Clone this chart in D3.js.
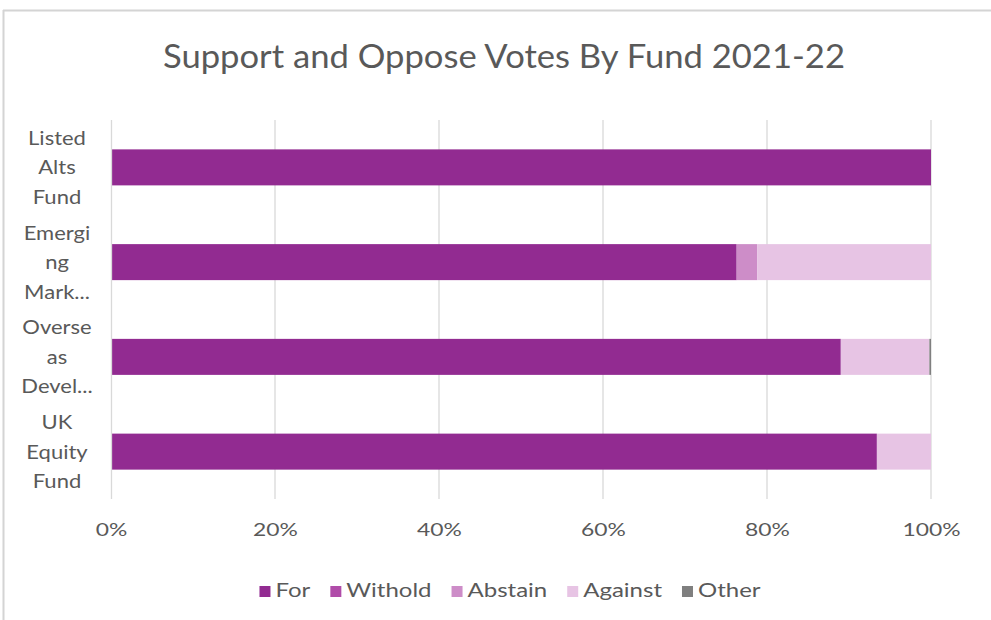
<!DOCTYPE html>
<html>
<head>
<meta charset="utf-8">
<script src="https://cdn.jsdelivr.net/npm/d3@7"></script>
<style>
  html, body { margin: 0; padding: 0; background: #fff; }
  svg { display: block; font-family: Lato, "Open Sans", sans-serif; }
</style>
</head>
<body>
<svg id="chart" width="991" height="620"></svg>
<script>
// Funds (top to bottom) with their wrapped axis labels
const funds = ["Listed Alts Fund", "Emerging Markets", "Overseas Developed", "UK Equity Fund"];
const fundLabelLines = [
  ["Listed", "Alts", "Fund"],
  ["Emergi", "ng", "Mark..."],
  ["Overse", "as", "Devel..."],
  ["UK", "Equity", "Fund"]
];

// Share of votes per outcome (%)
const voteTypes = ["For", "Withold", "Abstain", "Against", "Other"];
const forVotes     = [100.0, 76.3, 89.0, 93.4];
const witholdVotes = [0.0, 0.0, 0.0, 0.0];
const abstainVotes = [0.0, 2.5, 0.0, 0.0];
const againstVotes = [0.0, 21.2, 10.8, 6.6];
const otherVotes   = [0.0, 0.0, 0.2, 0.0];

const xTicks = [0, 20, 40, 60, 80, 100];
const colors = ["#922b91", "#b04ca9", "#cd8dc8", "#e7c4e4", "#7f7f7f"];
const textColor = "#595959";

const svg = d3.select("#chart");

// chart frame
svg.append("line").attr("x1", 3).attr("x2", 991).attr("y1", 10.5).attr("y2", 10.5)
  .attr("stroke", "#d4d4d4").attr("stroke-width", 2);
svg.append("line").attr("x1", 3.5).attr("x2", 3.5).attr("y1", 10).attr("y2", 620)
  .attr("stroke", "#d4d4d4").attr("stroke-width", 2);

// title
svg.append("text")
  .attr("x", 504).attr("y", 68)
  .attr("text-anchor", "middle")
  .attr("fill", textColor)
  .attr("font-size", 32)
  .attr("textLength", 682)
  .attr("lengthAdjust", "spacingAndGlyphs")
  .text("Support and Oppose Votes By Fund 2021-22");

const plot = { left: 111, right: 931, top: 120, bottom: 499 };

const x = d3.scaleLinear().domain([0, 100]).range([plot.left, plot.right]);
const y = d3.scaleBand().domain(funds).range([plot.top, plot.bottom]).paddingInner(0.62).paddingOuter(0.31);

// gridlines
svg.append("g")
  .selectAll("line")
  .data(xTicks.slice(1))
  .join("line")
  .attr("x1", d => x(d)).attr("x2", d => x(d))
  .attr("y1", plot.top).attr("y2", plot.bottom)
  .attr("stroke", "#d9d9d9").attr("stroke-width", 1.3);

// x axis labels
const xAxis = svg.append("g")
  .attr("transform", `translate(0,${plot.bottom})`)
  .call(d3.axisBottom(x).tickValues(xTicks).tickFormat(d => d + "%").tickSize(0).tickPadding(24));
xAxis.select(".domain").remove();
xAxis.selectAll("text").attr("fill", textColor).attr("font-size", 18)
  .attr("font-family", "Lato, 'Open Sans', sans-serif")
  .attr("transform", "scale(1.27,1)");

// stacked data
const rows = funds.map((f, i) => ({
  fund: f,
  For: forVotes[i], Withold: witholdVotes[i], Abstain: abstainVotes[i],
  Against: againstVotes[i], Other: otherVotes[i]
}));
const series = d3.stack().keys(voteTypes)(rows);

svg.append("g")
  .selectAll("g")
  .data(series)
  .join("g")
  .attr("fill", (d, i) => colors[i])
  .selectAll("rect")
  .data(d => d)
  .join("rect")
  .attr("x", d => x(d[0]))
  .attr("width", d => Math.max(0, x(d[1]) - x(d[0])))
  .attr("y", d => y(d.data.fund))
  .attr("height", y.bandwidth());

// y axis line
svg.append("line")
  .attr("x1", plot.left + 0.5).attr("x2", plot.left + 0.5)
  .attr("y1", plot.top).attr("y2", plot.bottom)
  .attr("stroke", "#d9d9d9").attr("stroke-width", 1.3);

// y category labels (wrapped)
const labelX = 57;
const yLab = svg.append("g")
  .attr("transform", `translate(${labelX},0) scale(1.1,1) translate(${-labelX},0)`);
funds.forEach((f, i) => {
  const cy = y(f) + y.bandwidth() / 2;
  const lines = fundLabelLines[i];
  const t = yLab.append("text")
    .attr("text-anchor", "middle")
    .attr("fill", textColor)
    .attr("font-size", 20);
  lines.forEach((ln, j) => {
    t.append("tspan")
      .attr("x", labelX)
      .attr("y", cy + (j - (lines.length - 1) / 2) * 29.5 + 7)
      .text(ln);
  });
});

// legend
const legendStretch = 1.2;
const legend = svg.append("g");
const items = legend.selectAll("g").data(voteTypes).join("g");
items.append("rect").attr("width", 11).attr("height", 11).attr("y", -11)
  .attr("fill", (d, i) => colors[i]);
items.append("text")
  .attr("transform", `translate(16,0) scale(${legendStretch},1)`)
  .attr("fill", textColor).attr("font-size", 20)
  .text(d => d);
const widths = [];
items.each(function () {
  widths.push(this.querySelector("text").getComputedTextLength() * legendStretch + 16);
});
const gap = 20;
const total = d3.sum(widths) + gap * (widths.length - 1);
let start = 510 - total / 2;
items.attr("transform", (d, i) => {
  const tx = start;
  start += widths[i] + gap;
  return `translate(${tx},597)`;
});
</script>
</body>
</html>
